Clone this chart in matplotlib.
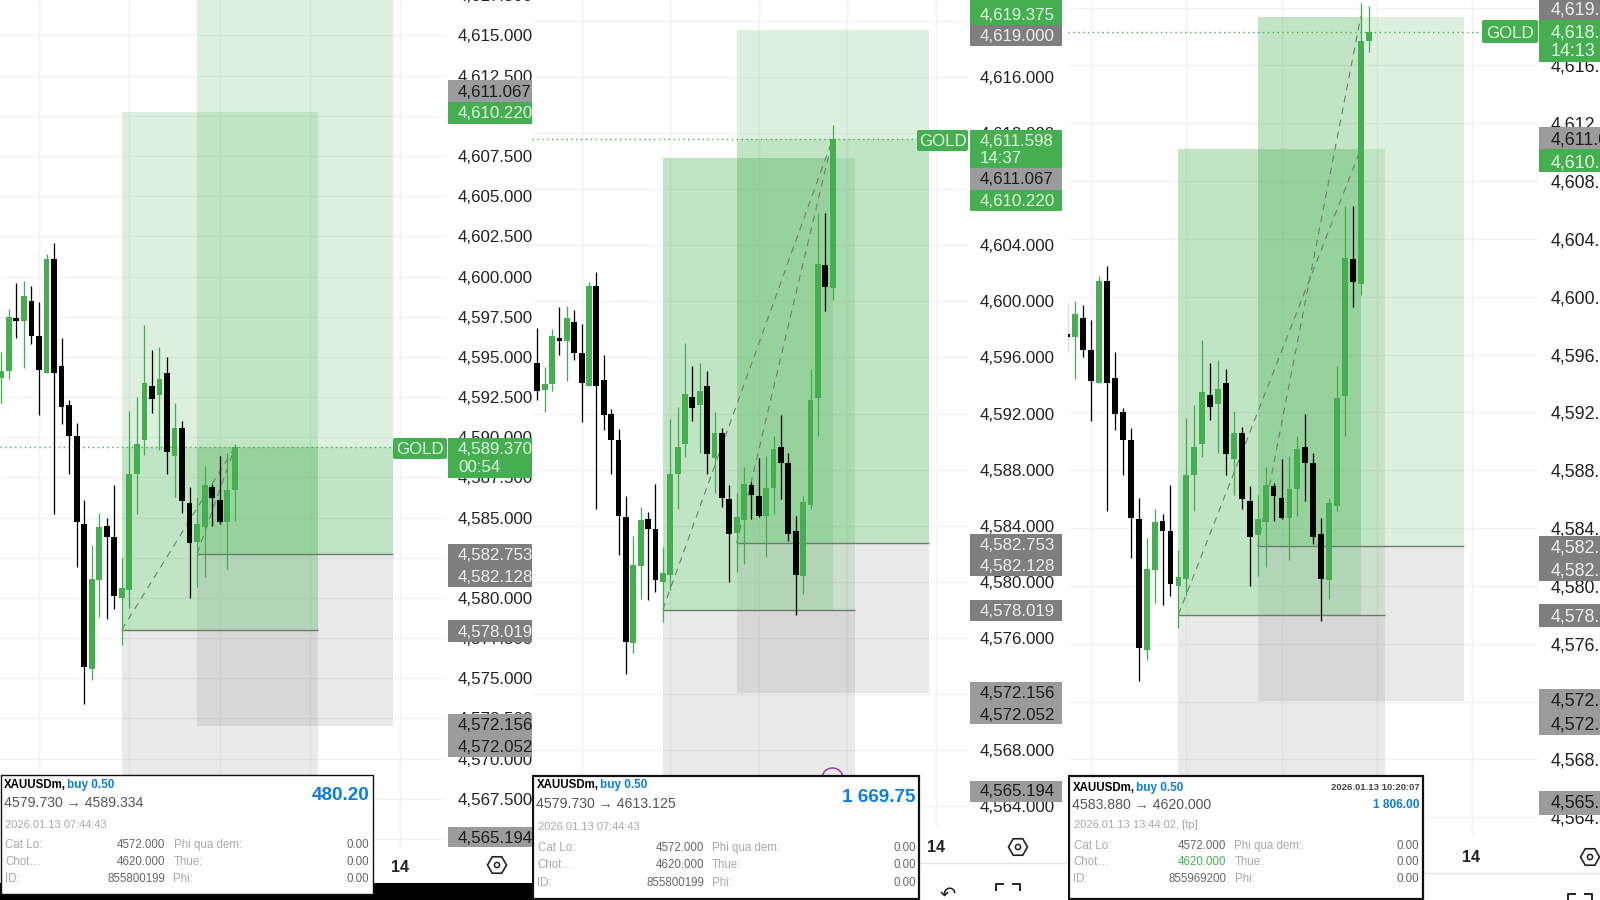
#!/usr/bin/env python3
"""Three XAUUSD phone screenshots side by side, two long trades on gold."""

import numpy as np
import matplotlib
matplotlib.use('Agg')
import matplotlib.pyplot as plt
import matplotlib.patches as patches

plt.rcParams['font.family'] = ['Liberation Sans', 'DejaVu Sans']

# bars shared by all screenshots
opens = [4595.6, 4593.7, 4594.1, 4597.4, 4597.2, 4598.5, 4596.3, 4594.0, 4601.1, 4594.4,
         4592.0, 4590.1, 4584.6, 4575.6, 4581.1, 4584.5, 4583.8, 4580.0, 4580.5, 4587.7,
         4589.8, 4593.2, 4592.6, 4594.0, 4588.8, 4590.6, 4585.9, 4583.5, 4584.4, 4586.9,
         4586.1, 4584.7, 4586.7, 4589.6, 4588.5, 4583.6, 4580.4, 4585.5, 4593.1, 4602.6]
highs = [4598.1, 4595.3, 4598.0, 4599.6, 4599.7, 4599.4, 4598.4, 4601.4, 4602.1, 4596.2,
         4592.3, 4590.9, 4586.1, 4583.3, 4585.3, 4585.0, 4587.0, 4582.5, 4591.6, 4592.5,
         4597.0, 4595.4, 4595.6, 4595.0, 4592.1, 4591.0, 4586.9, 4586.3, 4588.2, 4587.1,
         4588.8, 4589.0, 4590.4, 4591.9, 4589.2, 4584.7, 4586.1, 4595.2, 4606.3, 4606.3]
lows = [4593.0, 4592.1, 4593.6, 4596.2, 4594.3, 4595.8, 4591.4, 4594.0, 4585.2, 4590.8,
        4587.7, 4581.9, 4573.4, 4574.9, 4578.8, 4578.7, 4579.3, 4577.1, 4579.4, 4585.2,
        4588.9, 4591.5, 4589.2, 4587.7, 4586.3, 4585.3, 4580.0, 4580.7, 4581.3, 4584.5,
        4584.6, 4581.8, 4584.8, 4585.9, 4582.9, 4577.6, 4579.1, 4585.2, 4590.4, 4599.3]
closes = [4593.6, 4594.1, 4597.5, 4597.2, 4598.8, 4596.3, 4594.2, 4601.1, 4594.0, 4591.9,
          4590.1, 4584.7, 4575.7, 4581.2, 4584.4, 4583.8, 4580.1, 4580.6, 4587.7, 4589.6,
          4593.4, 4592.4, 4593.6, 4589.1, 4590.6, 4586.0, 4583.4, 4584.6, 4587.0, 4586.2,
          4584.7, 4586.7, 4589.5, 4588.5, 4583.4, 4580.5, 4585.7, 4593.0, 4602.7, 4601.0]

# bars that differ per screenshot: (index, open, high, low, close)
last_bars_1 = [(32, 4586.7, 4589.6, 4584.8, 4589.37)]
last_bars_2 = [(40, 4600.95, 4612.6, 4600.1, 4611.6)]
last_bars_3 = [(40, 4600.9, 4620.3, 4600.1, 4617.7), (41, 4617.7, 4620.1, 4616.9, 4618.3)]

# the two trades: bar span and price levels
trade_a_bars = (17, 43)
trade_b_bars = (27, 53)
trade_a_levels = (4610.22, 4578.019, 4565.194)
trade_b_levels = (4619.375, 4582.753, 4572.052)

ticks_1 = [4617.5, 4615, 4612.5, 4607.5, 4605, 4602.5, 4600, 4597.5, 4595, 4592.5, 4590, 4587.5,
           4585, 4580, 4577.5, 4575, 4572.5, 4570, 4567.5]
ticks_2 = [4616, 4612, 4604, 4600, 4596, 4592, 4588, 4584, 4580, 4576, 4568, 4564]
ticks_3 = [4616, 4612, 4608, 4604, 4600, 4596, 4592, 4588, 4584, 4580, 4576, 4568, 4564]
grid_1 = [4615, 4612.5, 4610, 4607.5, 4605, 4602.5, 4600, 4597.5, 4595, 4592.5, 4590, 4587.5,
          4585, 4582.5, 4580, 4577.5, 4575, 4572.5, 4570, 4567.5, 4565]
grid_2 = [4620, 4616, 4612, 4608, 4604, 4600, 4596, 4592, 4588, 4584, 4580, 4576, 4572, 4568, 4564]
grid_bars = [6, 18, 30, 42, 54]

GREEN = '#45AE50'
DARK_GRAY = '#7F7F7F'
LIGHT_GRAY = '#9B9B9B'
BLUE = '#0B7DE6'
STYLES = {'g': (GREEN, '#DFF3DF'), 'd': (DARK_GRAY, '#EDEDED'), 'l': (LIGHT_GRAY, '#1E1E1E')}


def draw_bars(ax, bars, bar_px, px):
    """wicks and bodies, one colour group at a time"""
    idx, o, h, l, c = [np.array(v) for v in zip(*bars)]
    up = c >= o
    for mask, color in ((up, GREEN), (~up, 'black')):
        ax.vlines(idx[mask], l[mask], h[mask], color=color, lw=1.3 * px, zorder=6)
        ax.bar(idx[mask], np.abs(c[mask] - o[mask]), bottom=np.minimum(o[mask], c[mask]),
               width=5.8 / bar_px, color=color, lw=0, zorder=7)


def add_box(ax, x0, x1, y0, y1, color, alpha):
    ax.add_patch(patches.Rectangle((x0, y0), x1 - x0, y1 - y0, fc=color, ec='none', alpha=alpha, zorder=3))


def draw_panel(fig, p):
    left, right = p['span']
    x0, bar_px = p['bars_px']
    y_ref, price_ref, scale = p['y_px']
    rect = [left / 1600, 0, (right - left) / 1600, 1]

    ax = fig.add_axes(rect)
    ax.set_xlim((left - x0) / bar_px, (right - x0) / bar_px)
    ax.set_ylim(price_ref - (900 - y_ref) / scale, price_ref + y_ref / scale)
    ax.set_axis_off()

    # the axis-area ends where price labels start
    grid_end = (p['grid_right'] - x0) / bar_px
    grid_bottom = price_ref - (p['grid_bottom'] - y_ref) / scale
    ax.hlines(p['grid'], ax.get_xlim()[0], grid_end, color='#F3F3F3', lw=1.0, zorder=1)
    ax.vlines(grid_bars, grid_bottom, ax.get_ylim()[1], color='#F3F3F3', lw=1.0, zorder=1)

    for tick in p['ticks']:
        ax.text((p['text_x'] - left) / (right - left), tick, f'{tick:,.3f}',
                transform=ax.get_yaxis_transform(), ha='left', va='center_baseline',
                fontsize=p['font'], color='#222222', clip_on=True, zorder=2)

    # trade zones: base box plus the running-profit layer
    for bars, lv in ((trade_a_bars, trade_a_levels), (trade_b_bars, trade_b_levels)):
        add_box(ax, bars[0], bars[1], lv[1], lv[0], GREEN, 0.18)
        add_box(ax, bars[0], bars[1], lv[2], lv[1], '#808080', 0.17)
        ax.hlines(lv[1], bars[0], bars[1], color='#6E7A6E', lw=1.0, zorder=4)
    for x0_, x1_, y0_, y1_ in p['profit']:
        add_box(ax, x0_, x1_, y0_, y1_, GREEN, 0.18)

    for x0_, y0_, x1_, y1_ in p['dashes']:
        ax.plot([x0_, x1_], [y0_, y1_], color='#6E7F6E', lw=0.8, ls=(0, (6, 5)), zorder=5)

    all_bars = list(zip(range(len(opens)), opens, highs, lows, closes))[:p['n_bars']] + p['last']
    draw_bars(ax, all_bars, bar_px, 0.72)

    tag_x = (p['tag'][0] - x0) / bar_px
    ax.hlines(p['last_price'], ax.get_xlim()[0], tag_x, color=GREEN, lw=1.0, ls=(0, (1, 2.5)), zorder=5)

    # overlay in screen pixels for labels and the info card
    ov = fig.add_axes(rect)
    ov.set_xlim(left, right)
    ov.set_ylim(900, 0)
    ov.set_axis_off()
    ov.patch.set_alpha(0)
    return ov


def price_labels(ov, p):
    left_x = p['label_x']
    right_x = min(p['span'][1], p['label_right'])
    for top, bottom, style in p['label_boxes']:
        ov.add_patch(patches.Rectangle((left_x, top), right_x - left_x, bottom - top,
                                       fc=STYLES[style][0], ec='none', zorder=5))
    for txt, y, style in p['label_texts']:
        ov.text(p['text_x'], y, txt, ha='left', va='center_baseline', fontsize=p['font'],
                color=STYLES[style][1], clip_on=True, zorder=6)
    tx0, tx1, ty0, ty1 = p['tag']
    ov.add_patch(patches.FancyBboxPatch((tx0 + 1, ty0 + 1), tx1 - tx0 - 2, ty1 - ty0 - 2,
                                        boxstyle='round,pad=1,rounding_size=2', fc=GREEN, ec='none', zorder=5))
    ov.text((tx0 + tx1) / 2, (ty0 + ty1) / 2, 'GOLD', ha='center', va='center_baseline',
            fontsize=12.2, color='#DFF3DF', zorder=6)


def bottom_strip(ov, p):
    ov.add_patch(patches.Rectangle((p['span'][0], p['strip_y']), p['span'][1] - p['span'][0],
                                   900 - p['strip_y'], fc='white', ec='none', zorder=1.5))
    ov.hlines(p['strip_y'], p['span'][0], p['span'][1], color='#E4E4E4', lw=1, zorder=2)
    ov.text(p['day_x'][0], p['day_x'][1], '14', ha='center', va='center', fontsize=11.5,
            fontweight='bold', color='#222222', zorder=3)
    hx, hy = p['hex']
    ov.add_patch(patches.RegularPolygon((hx, hy), 6, radius=9.5, orientation=np.pi / 6, fc='none',
                                        ec='#222222', lw=1.2, zorder=3))
    ov.add_patch(patches.Circle((hx, hy), 2.6, fc='none', ec='#222222', lw=1.1, zorder=3))


def scan_icon(ov, cx, top):
    for sign in (-1, 1):
        ov.plot([cx + sign * 12, cx + sign * 12, cx + sign * 5], [top + 6, top, top], color='#222222',
                lw=1.4, zorder=3)


def info_card(ov, c):
    x0, x1, y0, y1 = c['box']
    ov.add_patch(patches.Rectangle((x0, y0), x1 - x0, y1 - y0, fc='white', ec='#111111',
                                   lw=c['lw'], zorder=8))
    tx = x0 + 3.5
    ov.text(tx, c['ys'][0], 'XAUUSDm,', fontweight='bold', fontsize=8.3,
            color='black', va='center', zorder=9)
    ov.text(tx + c['buy_dx'], c['ys'][0], 'buy 0.50', fontweight='bold', fontsize=8.5,
            color=BLUE, va='center', zorder=9)
    ov.text(tx, c['ys'][1], c['move'], fontsize=10.2, color='#555555', va='center', zorder=9)
    ov.text(c['right'], c['profit_y'], c['profit'], fontweight='bold',
            fontsize=c['profit_fs'], color=BLUE, ha='right', va='center', zorder=9)
    ov.text(tx + 1, c['ys'][2], c['stamp'], fontsize=8, color='#A8A8A8', va='center', zorder=9)
    if c.get('opened'):
        ov.text(c['right'], c['ys'][0], c['opened'], fontweight='bold', fontsize=6.8,
                color='#444444', ha='right', va='center', zorder=9)
    names = ['Cat Lo:', 'Chot\u2026', 'ID:']
    values = ['4572.000', '4620.000', c['id']]
    fees = ['Phi qua dem:', 'Thue:', 'Phi:']
    for k, y in enumerate(c['rows']):
        ov.text(tx + 1, y, names[k], fontsize=8.3, color='#A8A8A8', va='center', zorder=9)
        col = '#49B453' if (k == 1 and c.get('tp_green')) else '#666666'
        ov.text(c['mid'], y, values[k], fontsize=8.3, color=col, ha='right', va='center', zorder=9)
        ov.text(c['mid'] + 8, y, fees[k], fontsize=8.3, color='#A8A8A8', va='center', zorder=9)
        ov.text(c['right'], y, '0.00', fontsize=8.3, color='#666666', ha='right', va='center', zorder=9)


panel_1 = dict(
    span=(0, 532), bars_px=(-6.2, 7.53), y_px=(597.9, 4580, 16.07), grid=grid_1, ticks=ticks_1, font=12.2,
    grid_right=445, grid_bottom=848, text_x=458, label_x=447.5, label_right=532, n_bars=32, last=last_bars_1,
    last_price=4589.37, tag=(393, 447, 438, 459),
    profit=[(17, 43, 4578.019, 4589.37), (27, 53, 4582.753, 4589.37)],
    dashes=[(17, 4578.019, 32, 4589.37), (27, 4582.753, 32, 4589.37)],
    label_boxes=[(80, 101.5, 'l'), (101.5, 123.5, 'g'), (438, 477.5, 'g'), (544, 587, 'd'), (620, 642, 'd'),
                 (714, 757, 'l'), (826.5, 847, 'l')],
    label_texts=[('4,611.067', 90.8, 'l'), ('4,610.220', 112.5, 'g'), ('4,589.370', 448, 'g'), ('00:54', 466, 'g'),
                 ('4,582.753', 553.5, 'd'), ('4,582.128', 575.5, 'd'), ('4,578.019', 630.6, 'd'),
                 ('4,572.156', 723.5, 'l'), ('4,572.052', 746, 'l'), ('4,565.194', 836.7, 'l')],
    strip_y=883, day_x=(400, 867), hex=(497, 865))

panel_2 = dict(
    span=(532, 1068), bars_px=(537.33, 7.383), y_px=(245.3, 4604, 14.02), grid=grid_2, ticks=ticks_2, font=12.2,
    grid_right=968, grid_bottom=827, text_x=980, label_x=970, label_right=1062, n_bars=40, last=last_bars_2,
    last_price=4611.6, tag=(917, 968, 130, 151),
    profit=[(17, 40, 4578.019, 4610.22), (27, 53, 4582.753, 4611.6)],
    dashes=[(17, 4578.019, 40, 4611.6), (27, 4582.753, 40, 4611.6)],
    label_boxes=[(0, 25, 'g'), (25, 46, 'd'), (130, 168, 'g'), (168, 189.5, 'l'), (189.5, 210.5, 'g'),
                 (534, 576, 'd'), (600, 621, 'd'), (682, 724, 'l'), (781, 802, 'l')],
    label_texts=[('4,619.375', 14, 'g'), ('4,619.000', 35, 'd'), ('4,611.598', 140, 'g'), ('14:37', 157, 'g'),
                 ('4,611.067', 178, 'l'), ('4,610.220', 199.5, 'g'), ('4,582.753', 544, 'd'), ('4,582.128', 565, 'd'),
                 ('4,578.019', 610, 'd'), ('4,572.156', 692, 'l'), ('4,572.052', 713.5, 'l'), ('4,565.194', 790.5, 'l')],
    strip_y=863, day_x=(935.5, 848), hex=(1018, 847))

panel_3 = dict(
    span=(1068, 1600), bars_px=(1043.6, 7.93), y_px=(296.7, 4600, 14.46), grid=grid_2, ticks=ticks_3, font=12.9,
    grid_right=1537, grid_bottom=837, text_x=1550.5, label_x=1539, label_right=1600, n_bars=40, last=last_bars_3,
    last_price=4618.3, tag=(1482, 1538, 20, 43),
    profit=[(17, 40, 4578.019, 4610.22), (27, 40, 4582.753, 4619.375)],
    dashes=[(17, 4578.019, 40, 4610.22), (27, 4582.753, 40, 4619.375)],
    label_boxes=[(0, 20, 'd'), (20, 62, 'g'), (127, 149, 'l'), (149, 172, 'g'), (536, 581, 'd'), (604, 627, 'd'),
                 (689, 735, 'l'), (791, 815, 'l')],
    label_texts=[('4,619.000', 8, 'd'), ('4,618.342', 31, 'g'), ('14:13', 50, 'g'), ('4,611.067', 138, 'l'),
                 ('4,610.220', 161, 'g'), ('4,582.753', 546, 'd'), ('4,582.128', 568.5, 'd'), ('4,578.019', 615.5, 'd'),
                 ('4,572.156', 699, 'l'), ('4,572.052', 722.5, 'l'), ('4,565.194', 801, 'l')],
    strip_y=873, day_x=(1471, 858), hex=(1590, 857))

card_1 = dict(box=(0.5, 372.5, 775, 894), lw=1.0, ys=(785, 803, 824.5), buy_dx=63, move='4579.730 \u2192 4589.334',
              right=369.5, profit='480.20', profit_y=796, profit_fs=13.6, stamp='2026.01.13 07:44:43',
              rows=(845, 862, 879.5), mid=165.5, id='855800199')
card_2 = dict(box=(533, 919, 776, 899), lw=1.6, ys=(785, 804, 826.5), buy_dx=63, move='4579.730 \u2192 4613.125',
              right=916, profit='1 669.75', profit_y=798, profit_fs=13.6, stamp='2026.01.13 07:44:43',
              rows=(848, 865.5, 883.5), mid=704, id='855800199')
card_3 = dict(box=(1069, 1422.5, 776, 899), lw=1.6, ys=(788, 805, 825.5), buy_dx=63, move='4583.880 \u2192 4620.000',
              right=1419.5, profit='1 806.00', profit_y=805, profit_fs=8.6, stamp='2026.01.13 13:44:02, [tp]',
              rows=(846, 862, 879), mid=1226.5, id='855969200', opened='2026.01.13 10:20:07', tp_green=True)


def main():
    fig = plt.figure(figsize=(16, 9), dpi=100, facecolor='white')
    for p, c in ((panel_1, card_1), (panel_2, card_2), (panel_3, card_3)):
        ov = draw_panel(fig, p)
        bottom_strip(ov, p)
        price_labels(ov, p)
        if p is panel_1:
            ov.add_patch(patches.Rectangle((0, 883), 532, 17, fc='black', ec='none', zorder=2))
        if p is panel_2:
            ov.add_patch(patches.Circle((832.5, 778.6), 10.6, fc='none', ec='#8E44A8', lw=1.1, zorder=4))
            scan_icon(ov, 1008, 884)
            ov.text(948, 894, '\u21b6', family='DejaVu Sans', fontsize=14, ha='center', va='center',
                    color='#222222', zorder=3)
        if p is panel_3:
            scan_icon(ov, 1580, 894)
        info_card(ov, c)
    fig.savefig('out.png', dpi=100, facecolor='white')


if __name__ == "__main__":
    main()
